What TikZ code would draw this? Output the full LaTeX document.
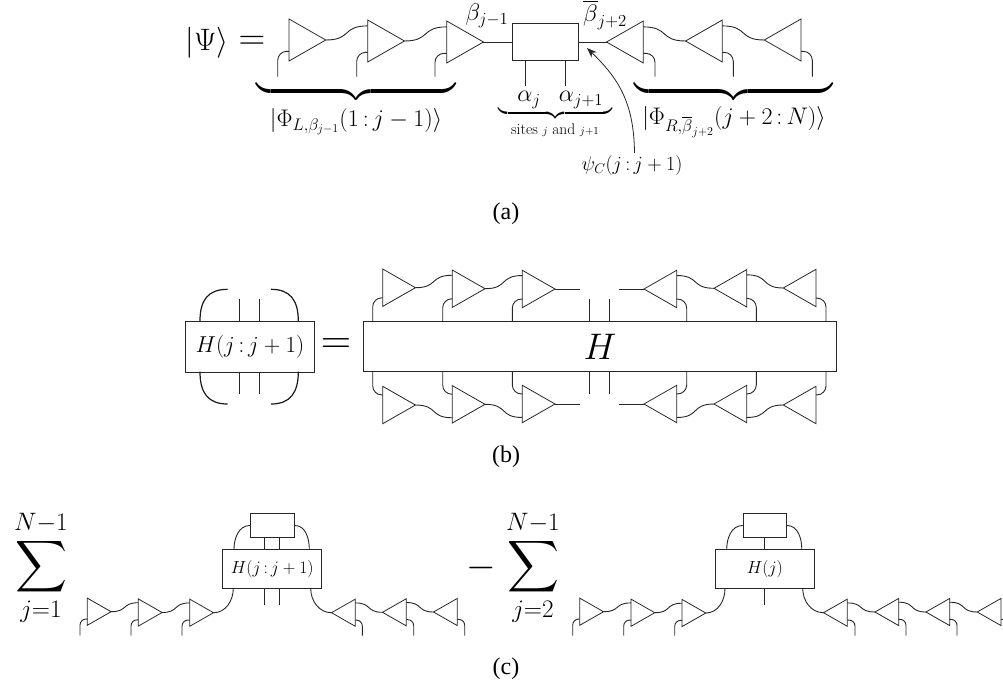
\documentclass[tikz,border=0pt]{standalone}
\usepackage{fix-cm}
\DeclareFontShape{OMX}{cmex}{m}{n}{<->cmex10}{}
\usepackage[no-math]{fontspec}
\newfontfamily\capfont{Liberation Serif}
\usetikzlibrary{arrows.meta,calc,shapes.geometric}

% one site tensor: style, name, base x, apex y, height, side of the wire (-1 up, 1 down)
\newcommand{\sitet}[6]{%
  \node[#1=#5] (#2) at (#3,#4) {};
  \coordinate (#2w) at ($(#2.lower side)+(0,{#6*.36*#5})$);
  \coordinate (#2l) at ($(#2.lower side)+(0,{-#6*.27*#5})$);
}

\begin{document}
\begin{tikzpicture}[x=1pt,y=-1pt,
  tri/.style={isosceles triangle,isosceles triangle stretches,draw=black!85,fill=white,
    inner sep=0pt,outer sep=0pt,anchor=lower side,minimum width=#1,minimum height=.875*#1,line width=0.8pt},
  rtri/.style={tri=#1},
  ltri/.style={tri=#1,shape border rotate=180},
  tbox/.style={draw=black!85,inner sep=0pt,line width=0.9pt,anchor=north west},
  wire/.style={draw=black!85,line width=0.9pt},
  sw/.style={wire,out=0,in=180,looseness=1.5},
  bow/.style={draw=black!90,line width=1.2pt},
  leg/.style={wire,rounded corners=9pt},
  lab/.style={inner sep=0pt,font=\fontsize{#1}{#1}\selectfont},
  capt/.style={inner sep=0pt,font=\fontsize{24}{24}\capfont\selectfont}]
\useasboundingbox (0,0) rectangle (1003,681);

% part a
\node[lab=31] (psi) at (207,43) {$|\Psi\rangle$};
\node[lab=37] (eqa) at (252,43) {$=$};
\foreach \n/\bx/\ay in {a1/289/40,a2/367.7/41,a3/446.7/42}
  {\sitet{rtri}{\n}{\bx}{\ay}{42}{-1}}
\foreach \n/\bx/\ay in {a4/643.3/42,a5/722.3/41,a6/801/40}
  {\sitet{ltri}{\n}{\bx}{\ay}{42}{-1}}
\foreach \n/\lx in {a1/277.7,a2/356.7,a3/435,a4/655,a5/733.3,a6/812.3}
  {\coordinate (\n f) at (\lx,76.5);
   \draw[leg] (\n l) -| (\n f);}
\draw[sw] (a1.apex) to (a2w);
\draw[sw] (a2.apex) to (a3w);
\draw[sw] (a4w) to (a5.apex);
\draw[sw] (a5w) to (a6.apex);
\node[tbox,minimum width=66.5pt,minimum height=37.5pt] (psic) at (511.7,22.7) {};
\draw[wire] (a3.apex) -- (a3.apex-|psic.west);
\draw[wire] (psic.east|-a4.apex) -- (a4.apex);
\coordinate (aj) at (525,86);
\coordinate (ak) at (565,86);
\draw[wire] (psic.south-|aj) -- (aj);
\draw[wire] (psic.south-|ak) -- (ak);
\node[lab=24] (bl) at (487,16) {$\beta_{j-1}$};
\node[lab=24] (br) at (605,15) {$\overline{\beta}_{j+2}$};
\node[lab=24] (alj) at (529,100) {$\alpha_j$};
\node[lab=24] (alk) at (581,100) {$\alpha_{j+1}$};
\node[lab=32,anchor=north] (bl1) at (356.2,86) {$\underbrace{\hspace{199pt}}$};
\node[lab=32,anchor=north] (br1) at (733.7,86) {$\underbrace{\hspace{199pt}}$};
\node[lab=20,anchor=north] (bs) at (555.7,108.5) {$\underbrace{\hspace{114pt}}$};
\node[lab=24] (phil) at (356,122) {$|\Phi_{L,\beta_{j-1}}(1\,{:}\,j-1)\rangle$};
\node[lab=24] (phir) at (734,122) {$|\Phi_{R,\overline{\beta}_{j+2}}(j+2\,{:}\,N)\rangle$};
\node[lab=15.5] (sites) at (555,130) {sites $\scriptstyle j$ and $\scriptstyle j+1$};
\node[lab=20] (psic1) at (632,165) {$\psi_C(j\,{:}\,j+1)$};
\coordinate (pa) at (634.5,153);
\coordinate (pb) at (587,48);
\draw[-{Stealth[length=3.5mm,width=2.6mm]},line width=0.8pt,draw=black!85] (pa) .. controls (634,102) and (618,78) .. (pb);
\node[capt] (capa) at (506,214) {(a)};

% part b
\node[tbox,minimum width=129pt,minimum height=50.7pt] (hs) at (185,321) {};
\node[lab=23] at (hs.center) {$H(j\,{:}\,j+1)$};
\node[lab=42] (eqb) at (336,346) {$=$};
\node[tbox,minimum width=472.4pt,minimum height=50pt] (hb) at (363.3,321.3) {};
\node[lab=37] at (hb.center) {$H$};
\draw[bow] (200,321) .. controls (200,300) and (208,289.3) .. (227.7,289.3);
\draw[bow] (298.3,321) .. controls (298.3,300) and (290,289.3) .. (271,289.3);
\draw[bow] (200,371.7) .. controls (200,393) and (208,404) .. (227.7,404);
\draw[bow] (298.3,371.7) .. controls (298.3,393) and (290,404) .. (271,404);
\foreach \lx in {239.7,259}
  {\draw[wire] (\lx,321) -- (\lx,298.7);
   \draw[wire] (\lx,371.7) -- (\lx,394.3);}
\foreach \lx in {589.7,609}
  {\draw[wire] (\lx,321.3) -- (\lx,298.7);
   \draw[wire] (\lx,371.3) -- (\lx,394.3);}
\foreach \n/\bx/\ay/\lx in {t1/382.7/287.7/372.7,t2/452.3/288.7/442.7,t3/522.3/289/512.3}
  {\sitet{rtri}{\n}{\bx}{\ay}{37.4}{-1}
   \coordinate (\n f) at (\lx,321.3);
   \draw[leg] (\n l) -| (\n f);}
\foreach \n/\bx/\ay/\lx in {t4/676.7/289/686.7,t5/746.7/288.3/756.3,t6/816/288/826}
  {\sitet{ltri}{\n}{\bx}{\ay}{37.4}{-1}
   \coordinate (\n f) at (\lx,321.3);
   \draw[leg] (\n l) -| (\n f);}
\foreach \n/\bx/\ay/\lx in {u1/382.7/405/372.7,u2/452.3/404.3/442.7,u3/522.3/404/512.3}
  {\sitet{rtri}{\n}{\bx}{\ay}{37.4}{1}
   \coordinate (\n f) at (\lx,371.3);
   \draw[leg] (\n l) -| (\n f);}
\foreach \n/\bx/\ay/\lx in {u4/676.7/404/686.7,u5/746.7/404/756.3,u6/816/405/826}
  {\sitet{ltri}{\n}{\bx}{\ay}{37.4}{1}
   \coordinate (\n f) at (\lx,371.3);
   \draw[leg] (\n l) -| (\n f);}
\foreach \a/\b in {t1/t2,t2/t3,u1/u2,u2/u3}
  {\draw[sw] (\a.apex) to (\b w);}
\foreach \a/\b in {t4/t5,t5/t6,u4/u5,u5/u6}
  {\draw[sw] (\a w) to (\b.apex);}
\coordinate (gl) at (580,0);
\coordinate (gr) at (619,0);
\foreach \n in {t,u}
  {\draw[wire] (\n 3.apex) -- (gl|-\n 3.apex);
   \draw[wire] (gr|-\n 4.apex) -- (\n 4.apex);}
\node[capt] (capb) at (506,457) {(b)};

% part c
\node[lab=36] (s1) at (41,568) {$\displaystyle\sum_{j=1}^{N-1}$};
\node[lab=38] (minus) at (481,568) {$-$};
\node[lab=36] (s2) at (533,568) {$\displaystyle\sum_{j=2}^{N-1}$};
\node[tbox,minimum width=99pt,minimum height=39pt] (h1) at (222.3,549.3) {};
\node[lab=17.5] at (h1.center) {$H(j\,{:}\,j+1)$};
\node[tbox,minimum width=43.7pt,minimum height=24.6pt] (p1) at (250,512.7) {};
\node[tbox,minimum width=99.3pt,minimum height=39pt] (h2) at (714.7,549.3) {};
\node[lab=17.5] at (h2.center) {$H(j)$};
\node[tbox,minimum width=43.3pt,minimum height=24.6pt] (p2) at (742.7,512.7) {};
\foreach \n/\bx/\ay/\lx in {c1/87.3/611.7/80,c2/138.3/612.5/131,c3/189.7/612.7/182,d1/579.7/611.7/572.7,d2/631/612.7/623.7,d3/682/613/674.7}
  {\sitet{rtri}{\n}{\bx}{\ay}{27.2}{-1}
   \coordinate (\n f) at (\lx,635.5);
   \draw[leg,rounded corners=6pt] (\n l) -| (\n f);}
\foreach \n/\bx/\ay/\lx in {c4/355.3/612.7/362.3,c5/406.3/612.3/413.7,c6/457.3/612/464.7,d4/847.3/612.7/855,d5/898.7/612/906,d6/949.7/612/957}
  {\sitet{ltri}{\n}{\bx}{\ay}{27.2}{-1}
   \coordinate (\n f) at (\lx,635.5);
   \draw[leg,rounded corners=6pt] (\n l) -| (\n f);}
\sitet{ltri}{d7}{1001}{612}{27.2}{-1}
\coordinate (edge) at (1003,0);
\draw[wire] (d7l) -- (edge|-d7l);
\foreach \a/\b in {c1/c2,c2/c3,d1/d2,d2/d3}
  {\draw[sw] (\a.apex) to (\b w);}
\foreach \a/\b in {c4/c5,c5/c6,d4/d5,d5/d6,d6/d7}
  {\draw[sw] (\a w) to (\b.apex);}
\foreach \n/\lx in {ma/264.3,mb/279,mc/764.3}
  {\coordinate (\n) at (\lx,605.3);}
\foreach \n in {ma,mb}
  {\draw[wire] (p1.south-|\n) -- (h1.north-|\n);
   \draw[wire] (h1.south-|\n) -- (\n);}
\draw[wire] (p2.south-|mc) -- (h2.north-|mc);
\draw[wire] (h2.south-|mc) -- (mc);
\foreach \n/\lx in {pl/234,pr/309.3,ql/726.7,qr/801.8}
  {\coordinate (\n) at (\lx,549.3);}
\foreach \n/\lx in {rl/233.3,rr/310.7,sl/725,sr/802.7}
  {\coordinate (\n) at (\lx,588.3);}
\draw[wire] (pl) to[out=90,in=180] (p1.west);
\draw[wire] (pr) to[out=90,in=0] (p1.east);
\draw[wire] (ql) to[out=90,in=180] (p2.west);
\draw[wire] (qr) to[out=90,in=0] (p2.east);
\draw[wire] (c3.apex) to[out=0,in=-90] (rl);
\draw[wire] (rr) to[out=-90,in=180] (c4.apex);
\draw[wire] (d3.apex) to[out=0,in=-90] (sl);
\draw[wire] (sr) to[out=-90,in=180] (d4.apex);
\node[capt] (capc) at (506,669) {(c)};
\end{tikzpicture}
\end{document}
